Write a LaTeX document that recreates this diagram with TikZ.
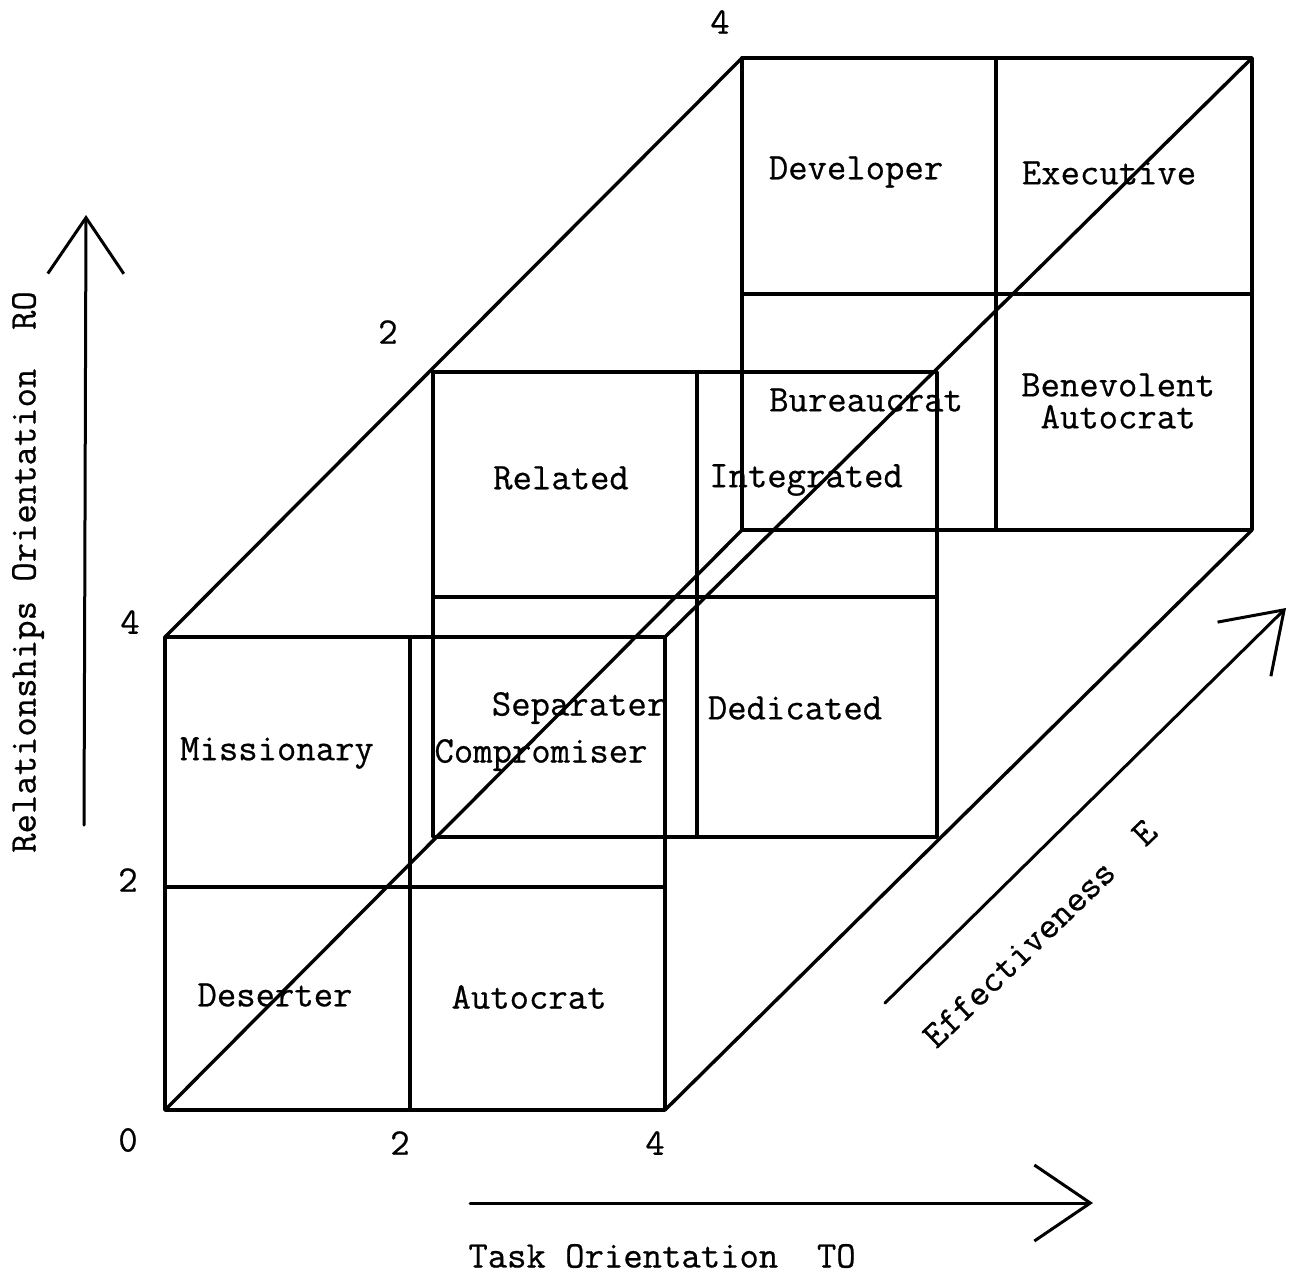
\documentclass[tikz,border=0pt]{standalone}
\usepackage{fontspec}
\setmonofont{Latin Modern Mono}[FakeBold=0.6]
\usetikzlibrary{arrows.meta}
\tikzset{frame/.style={line width=1.7pt,line cap=round,line join=round},axis/.style={line width=1.5pt,line cap=round,-{Straight Barb[length=28pt,width=38pt,line width=1.5pt]}},lbl/.style={font=\fontsize{18.8}{16}\selectfont\ttfamily,inner sep=0pt,align=center}}

\begin{document}
\begin{tikzpicture}[x=0.5pt,y=-0.5pt]
\useasboundingbox (0,0) rectangle (1289,1273);
% front square, E = 0
\coordinate (f-tl) at (165,637);
\coordinate (f-tr) at (665,637);
\coordinate (f-br) at (665,1110);
\coordinate (f-bl) at (165,1110);
\coordinate (f-t) at (410,637);
\coordinate (f-b) at (410,1110);
\coordinate (f-l) at (165,887);
\coordinate (f-r) at (665,887);
% middle square, E = 2
\coordinate (m-tl) at (433,372);
\coordinate (m-tr) at (937,372);
\coordinate (m-br) at (937,837);
\coordinate (m-bl) at (433,837);
\coordinate (m-t) at (697,372);
\coordinate (m-b) at (697,837);
\coordinate (m-l) at (433,597);
\coordinate (m-r) at (937,597);
% back square, E = 4
\coordinate (b-tl) at (742,58);
\coordinate (b-tr) at (1252,58);
\coordinate (b-br) at (1252,530);
\coordinate (b-bl) at (742,530);
\coordinate (b-t) at (996,58);
\coordinate (b-b) at (996,530);
\coordinate (b-l) at (742,294);
\coordinate (b-r) at (1252,294);

\draw[frame] (f-tl) -- (f-tr) -- (f-br) -- (f-bl) -- cycle;
\draw[frame] (f-t) -- (f-b);
\draw[frame] (f-l) -- (f-r);
\draw[frame] (m-tl) -- (m-tr) -- (m-br) -- (m-bl) -- cycle;
\draw[frame] (m-t) -- (m-b);
\draw[frame] (m-l) -- (m-r);
\draw[frame] (b-tl) -- (b-tr) -- (b-br) -- (b-bl) -- cycle;
\draw[frame] (b-t) -- (b-b);
\draw[frame] (b-l) -- (b-r);
% depth edges
\draw[frame] (f-tl) -- (b-tl);
\draw[frame] (f-tr) -- (b-tr);
\draw[frame] (f-br) -- (b-br);
\draw[frame] (f-bl) -- (b-bl);

% styles in the cells
\node[lbl] (developer) at (856,172) {Developer};
\node[lbl] (executive) at (1109,173) {Executive};
\node[lbl] (bureaucrat) at (866,400) {Bureaucrat};
\node[lbl] (benevolent) at (1118,401) {Benevolent\\Autocrat};
\node[lbl] (related) at (561,478) {Related};
\node[lbl] (integrated) at (806,480) {Integrated};
\node[lbl] (separater) at (579,708) {Separater};
\node[lbl] (dedicated) at (795,708) {Dedicated};
\node[lbl] (missionary) at (277,753) {Missionary};
\node[lbl] (compromiser) at (541,755) {Compromiser};
\node[lbl] (deserter) at (275,995) {Deserter};
\node[lbl] (autocrat) at (529,997) {Autocrat};

% scale values
\node[lbl] (e4) at (720,22) {4};
\node[lbl] (e2) at (388,332) {2};
\node[lbl] (ro4) at (130,622) {4};
\node[lbl] (ro2) at (128,880) {2};
\node[lbl] (zero) at (128,1140) {0};
\node[lbl] (to2) at (400,1143) {2};
\node[lbl] (to4) at (655,1143) {4};

% axes
\coordinate (ro-from) at (84,825);
\coordinate (ro-to) at (86,215);
\draw[axis] (ro-from) -- (ro-to);
\node[lbl,rotate=90] (ro) at (28,572) {Relationships Orientation\ \ RO};
\coordinate (to-from) at (470,1203);
\coordinate (to-to) at (1093,1203);
\draw[axis] (to-from) -- (to-to);
\node[lbl,anchor=west] (to) at (468,1256) {Task Orientation\ \ TO};
\coordinate (e-from) at (885,1003);
\coordinate (e-to) at (1286,608);
\draw[axis] (e-from) -- (e-to);
\node[lbl,rotate=44,anchor=base west] (eff) at (936,1050) {Effectiveness\ \ E};
\end{tikzpicture}
\end{document}
